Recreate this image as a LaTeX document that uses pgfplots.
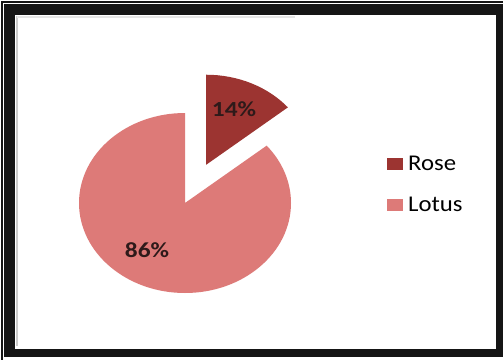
\documentclass[border=0pt]{standalone}
\usepackage{pgfplots}
\pgfplotsset{compat=1.18}
\usepackage{pgfplotstable}
\usepackage{fontspec}
\setmainfont{Carlito}
\usepackage{graphicx}
\definecolor{rosecol}{HTML}{9C3431}
\definecolor{lotuscol}{HTML}{DD7A78}
\definecolor{lblcol}{HTML}{2E1A1A}
\definecolor{framecol}{HTML}{151515}
\pgfplotstableread{
label value
Rose 14
Lotus 86
}\piedata
\begin{document}
\begin{tikzpicture}
\pgfplotstablegetelem{0}{value}\of\piedata \let\rosev\pgfplotsretval
\pgfplotstablegetelem{1}{value}\of\piedata \let\lotusv\pgfplotsretval
\pgfmathsetmacro{\roseend}{90-3.6*\rosev}
\pgfmathsetmacro{\lotusend}{90+3.6*\lotusv}
\pgfmathsetmacro{\bis}{90-1.8*\rosev}
\pgfmathsetmacro{\ex}{185+0.47*106*cos(\bis)}
\pgfmathsetmacro{\ey}{157+0.47*90*sin(\bis)}
\pgfmathsetmacro{\eyt}{\ey+90}
\begin{axis}[hide axis, x=1pt, y=1pt, xmin=0, xmax=503, ymin=0, ymax=360, clip=false,
  legend style={draw=none, fill=none, at={(axis cs:384,175.5)}, anchor=west,
    font=\fontsize{22.5}{26}\selectfont, row sep=22pt, legend cell align=left,
    nodes={inner xsep=5pt}},
  legend image code/.code={\fill[#1] (0pt,-6pt) rectangle (16pt,6pt);}]
% frame
\fill[white] (axis cs:0,0) rectangle (axis cs:503,360);
\fill[framecol] (axis cs:4,3) rectangle (axis cs:503,356);
\fill[framecol] (axis cs:1,0) rectangle (axis cs:2.5,359);
\fill[framecol] (axis cs:1,357.5) rectangle (axis cs:503,359);
\fill[white] (axis cs:15,11) rectangle (axis cs:496,345);
\fill[black!20] (axis cs:16,14) rectangle (axis cs:18,344);
\fill[black!10] (axis cs:17,342.5) rectangle (axis cs:295,344);
% pie
\fill[lotuscol] (axis cs:185,157) -- (axis cs:185,247) arc[start angle=90, end angle=\lotusend, x radius=106pt, y radius=90pt] -- cycle;
\fill[rosecol] (axis cs:\ex,\ey) -- (axis cs:\ex,\eyt) arc[start angle=90, end angle=\roseend, x radius=106pt, y radius=90pt] -- cycle;
\node[text=lblcol, font=\bfseries\fontsize{21.5}{25}\selectfont] at (axis cs:234,251) {\scalebox{1.18}[1]{14\%}};
\node[text=lblcol, font=\bfseries\fontsize{21.5}{25}\selectfont] at (axis cs:147,110) {\scalebox{1.18}[1]{86\%}};
\addlegendimage{fill=rosecol, draw=none}
\addlegendentry{\scalebox{1.1}[1]{Rose}}
\addlegendimage{fill=lotuscol, draw=none}
\addlegendentry{\scalebox{1.1}[1]{Lotus}}
\end{axis}
\end{tikzpicture}
\end{document}
